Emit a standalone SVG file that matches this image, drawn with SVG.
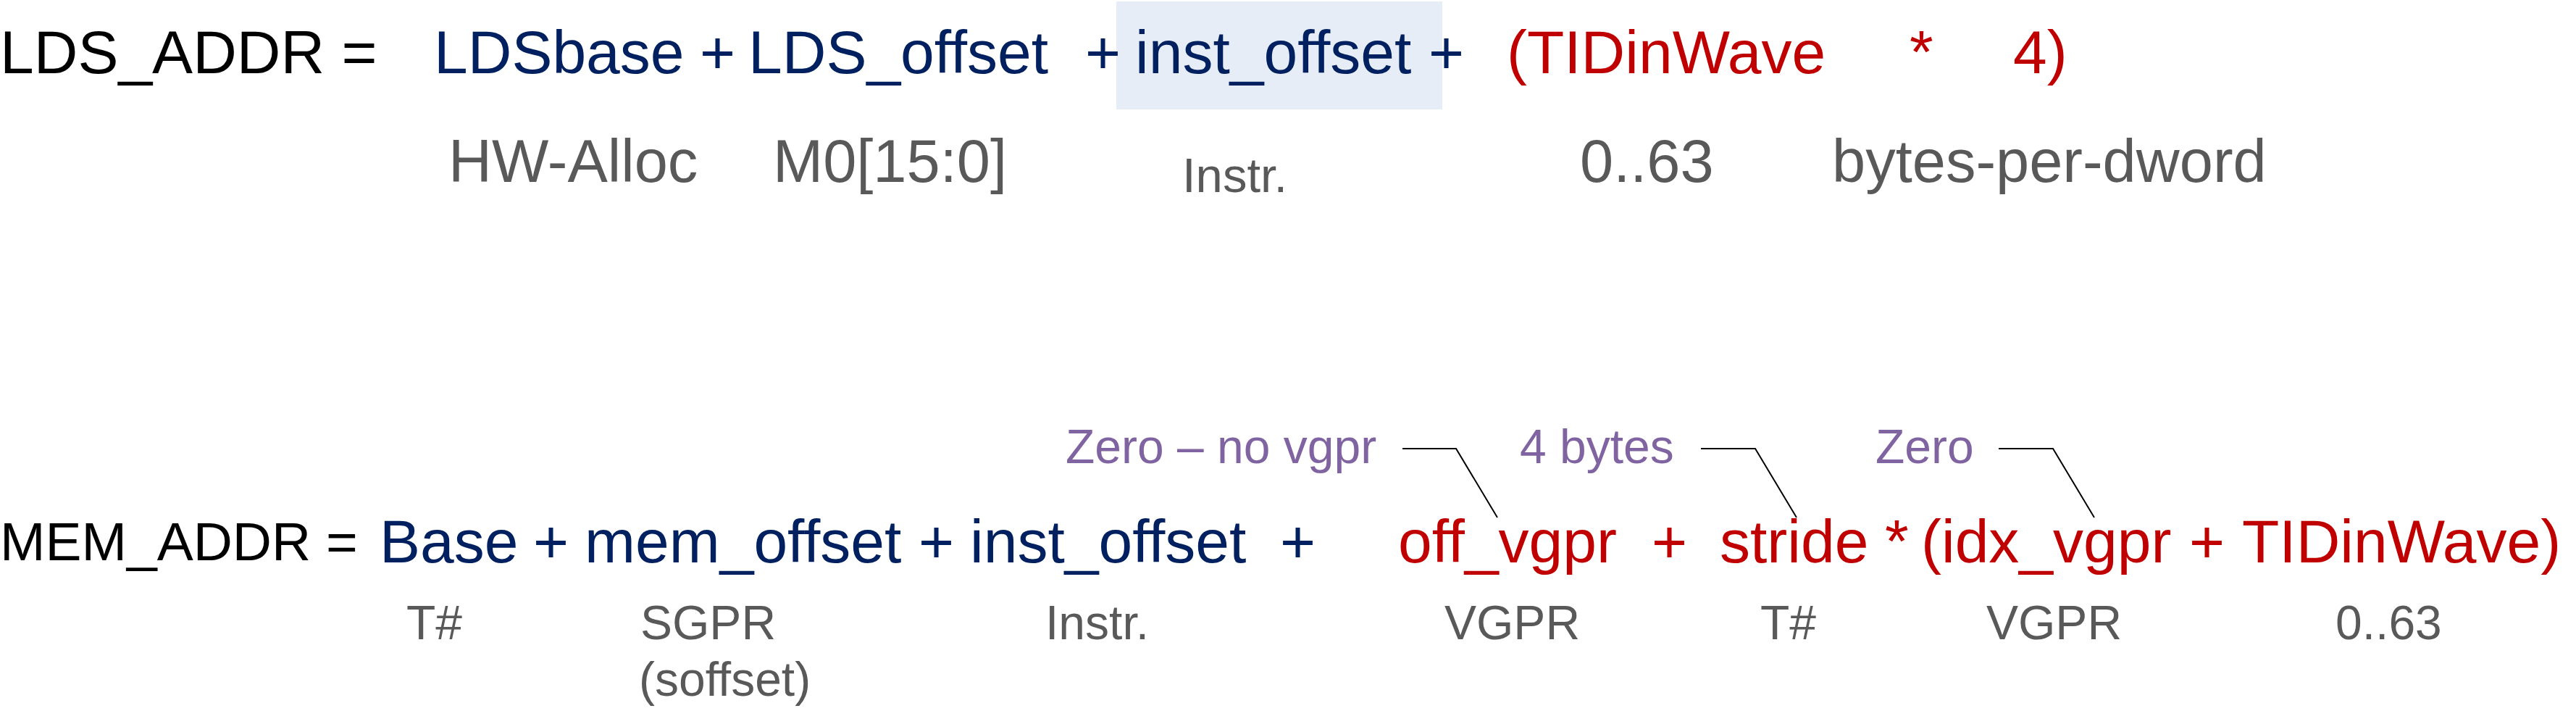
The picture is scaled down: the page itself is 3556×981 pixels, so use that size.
<svg xmlns="http://www.w3.org/2000/svg" width="3556" height="981" viewBox="0 0 3556 981">
<style>
text { font-family: "Liberation Sans", Arial, sans-serif; }
.k { fill: #000000; }
.b { fill: #002060; }
.r { fill: #C00000; }
.g { fill: #595959; }
.p { fill: #8064A2; }
.main { font-size: 84px; }
.lbl1 { font-size: 83px; }
.lbl2 { font-size: 66px; }
.conn { fill: none; stroke: #000000; stroke-width: 2; }
</style>
<rect width="3556" height="981" fill="#FFFFFF"/>
<g id="lds-formula">
  <rect id="inst-highlight" x="1541" y="2" width="450" height="149" fill="#E7EDF7"/>
  <text class="main k" x="0" y="101">LDS_ADDR =</text>
  <text class="main b" x="599" y="101">LDSbase</text>
  <text class="main b" x="966" y="101">+</text>
  <text class="main b" x="1033" y="101">LDS_offset</text>
  <text class="main b" x="1498" y="101">+</text>
  <text class="main b" x="1567" y="101">inst_offset</text>
  <text class="main b" x="1972" y="101">+</text>
  <text class="main r" x="2080" y="101">(TIDinWave</text>
  <text class="main r" x="2636" y="101">*</text>
  <text class="main r" x="2779" y="101">4)</text>
</g>
<g id="lds-labels">
  <text class="lbl1 g" x="619" y="251">HW-Alloc</text>
  <text class="lbl1 g" x="1067" y="251">M0[15:0]</text>
  <text class="g" style="font-size:67px" x="1632" y="265">Instr.</text>
  <text class="lbl1 g" x="2181" y="251">0..63</text>
  <text class="lbl1 g" x="2529" y="251">bytes-per-dword</text>
</g>
<g id="mem-formula">
  <text class="k" style="font-size:75px" x="0" y="773">MEM_ADDR =</text>
  <text class="main b" x="524" y="776">Base</text>
  <text class="main b" x="736" y="776">+</text>
  <text class="main b" x="807" y="776">mem_offset</text>
  <text class="main b" x="1268" y="776">+</text>
  <text class="main b" x="1339" y="776">inst_offset</text>
  <text class="main b" x="1767" y="776">+</text>
  <text class="main r" x="1930" y="776">off_vgpr</text>
  <text class="main r" x="2280" y="776">+</text>
  <text class="main r" x="2374" y="776">stride</text>
  <text class="main r" x="2602" y="776">*</text>
  <text class="main r" x="2652" y="776">(idx_vgpr</text>
  <text class="main r" x="3022" y="776">+</text>
  <text class="main r" x="3095" y="776">TIDinWave)</text>
</g>
<g id="mem-labels">
  <text class="lbl2 g" x="561" y="882">T#</text>
  <text class="lbl2 g" x="884" y="882">SGPR</text>
  <text class="lbl2 g" x="882" y="960">(soffset)</text>
  <text class="lbl2 g" x="1443" y="882">Instr.</text>
  <text class="lbl2 g" x="1994" y="882">VGPR</text>
  <text class="lbl2 g" x="2430" y="882">T#</text>
  <text class="lbl2 g" x="2742" y="882">VGPR</text>
  <text class="lbl2 g" x="3224" y="882">0..63</text>
</g>
<g id="callouts">
  <text class="lbl2 p" x="1471" y="639">Zero – no vgpr</text>
  <text class="lbl2 p" x="2098" y="639">4 bytes</text>
  <text class="lbl2 p" x="2589" y="639">Zero</text>
</g>
<g id="connectors">
  <polyline class="conn" points="1936,619 2010,619 2067,714"/>
  <polyline class="conn" points="2348,619 2423,619 2480,714"/>
  <polyline class="conn" points="2759,619 2834,619 2891,714"/>
</g>
</svg>
